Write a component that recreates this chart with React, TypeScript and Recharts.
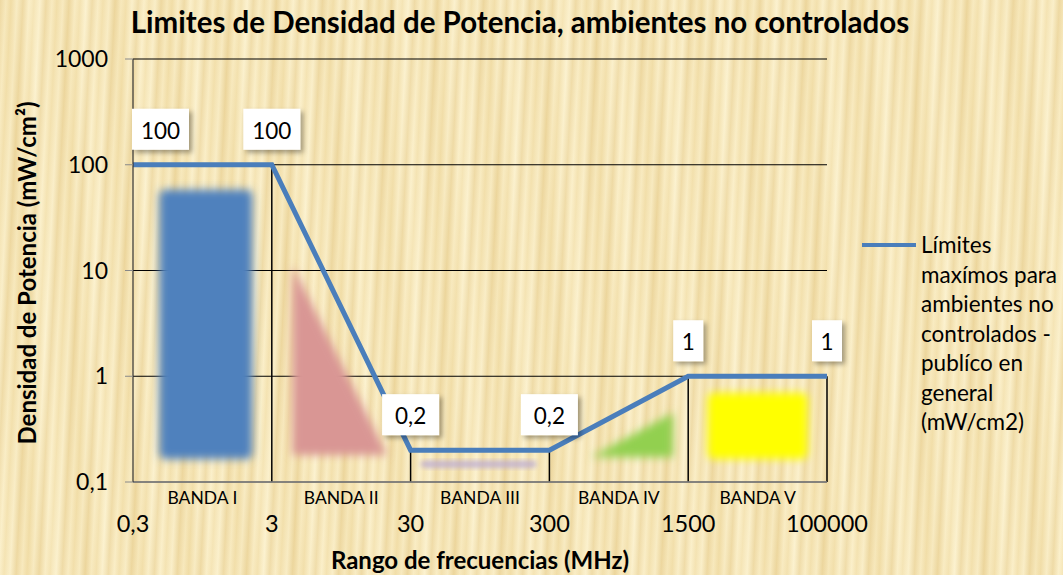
import React from "react"
import {
  LineChart,
  Line,
  XAxis,
  YAxis,
  CartesianGrid,
  Legend,
  ReferenceArea,
  ReferenceLine,
  LabelList,
  Label,
} from "recharts"

// x axis: frequency break points (MHz), drawn at equal spacing
const freqLabels = ["0,3", "3", "30", "300", "1500", "100000"]
// power density limits (mW/cm2) at each break point
const limits = [100, 100, 0.2, 0.2, 1, 1]
const bandNames = ["BANDA I", "BANDA II", "BANDA III", "BANDA IV", "BANDA V"]
const yTicks = [0.1, 1, 10, 100, 1000]

// blurred band illustrations (x in band index units, y in mW/cm2)
const bandX1 = [0.19, 1.15, 2.07, 3.3, 4.14]
const bandX2 = [0.86, 1.83, 2.91, 3.89, 4.86]
const bandYLow = [0.165, 0.18, 0.136, 0.172, 0.165]
const bandYHigh = [58, 11, 0.16, 0.45, 0.7]
const bandKinds = ["rect", "triLeft", "rect", "triRight", "rect"]
const bandColors = ["#4f81bd", "#d99694", "#b9a9d2", "#92d050", "#ffff00"]

const data = freqLabels.map((f, i) => ({ idx: i, freq: f, limit: limits[i] }))

const FONT = "Lato, 'Open Sans', sans-serif"
const PLOT_LEFT = 133

const fmt = (v: number) => String(v).replace(".", ",")

function BandShape(props: any) {
  const { x, y, width, height, kind, color, i } = props
  const id = "blur" + i
  let el
  if (kind === "triLeft") {
    el = <polygon points={`${x},${y} ${x},${y + height} ${x + width},${y + height}`} fill={color} filter={`url(#${id})`} />
  } else if (kind === "triRight") {
    el = <polygon points={`${x + width},${y} ${x + width},${y + height} ${x},${y + height}`} fill={color} filter={`url(#${id})`} />
  } else {
    el = <rect x={x} y={y} width={width} height={height} rx={6} fill={color} filter={`url(#${id})`} opacity={i === 2 ? 0.75 : 1} />
  }
  return (
    <g>
      <defs>
        <filter id={id} x="-30%" y="-30%" width="160%" height="160%">
          <feGaussianBlur stdDeviation={i === 2 ? 2.5 : 4.5} />
        </filter>
      </defs>
      {el}
    </g>
  )
}

function ValueLabel(props: any) {
  const { x, y, value, index } = props
  const txt = fmt(value)
  const w = txt.length === 1 ? 30 : txt.length * 12 + 21
  const h = 41
  let left = x - w / 2
  if (left < PLOT_LEFT - 1) left = PLOT_LEFT - 1
  const top = y - 15 - h
  const fid = "shadow" + index
  return (
    <g>
      <defs>
        <filter id={fid} x="-30%" y="-30%" width="170%" height="170%">
          <feDropShadow dx="3" dy="3" stdDeviation="2.5" floodColor="#000" floodOpacity="0.35" />
        </filter>
      </defs>
      <rect x={left} y={top} width={w} height={h} fill="#fff" filter={`url(#${fid})`} />
      <text x={left + w / 2} y={top + h / 2 + 1} textAnchor="middle" dominantBaseline="central" fontSize={22.5} fontFamily={FONT} fill="#000">
        {txt}
      </text>
    </g>
  )
}

function XTick(props: any) {
  const { x, y, payload } = props
  const v = payload.value
  if (Number.isInteger(v)) {
    return (
      <text x={x} y={y + 33} textAnchor="middle" dominantBaseline="central" fontSize={23.5} fontFamily={FONT} fill="#000">
        {freqLabels[v]}
      </text>
    )
  }
  return (
    <text x={x} y={y + 7} textAnchor="middle" dominantBaseline="central" fontSize={17.5} fontFamily={FONT} fill="#000">
      {bandNames[Math.floor(v)]}
    </text>
  )
}

function LegendBox() {
  const lines = ["Límites", "maxímos para", "ambientes no", "controlados -", "publíco en", "general", "(mW/cm2)"]
  return (
    <div style={{ display: "flex", fontFamily: FONT, fontSize: 22.5, color: "#000", lineHeight: "29.5px", whiteSpace: "nowrap" }}>
      <div style={{ width: 54, height: 4, background: "#4a7ebb", marginTop: 13, marginRight: 5 }} />
      <div>
        {lines.map((l) => (
          <div key={l}>{l}</div>
        ))}
      </div>
    </div>
  )
}

const xTicks = [0, 0.5, 1, 1.5, 2, 2.5, 3, 3.5, 4, 4.5, 5]

export default function App() {
  return (
    <div
      style={{
        position: "fixed",
        left: 0,
        top: 0,
        width: 1063,
        height: 575,
        backgroundColor: "#f8e9bc",
        backgroundImage:
          "repeating-linear-gradient(93deg, rgba(226,196,128,0.4) 0px, rgba(255,247,215,0.25) 6px, rgba(236,212,150,0.35) 11px, rgba(255,249,222,0.35) 17px, rgba(222,192,122,0.35) 23px), repeating-linear-gradient(88deg, rgba(255,250,228,0.3) 0px, rgba(228,200,132,0.25) 31px, rgba(255,250,228,0.3) 53px)",
      }}
    >
      <div
        style={{
          position: "absolute",
          left: 0,
          top: 3,
          width: 1040,
          textAlign: "center",
          fontFamily: FONT,
          fontWeight: 700,
          fontSize: 29.5,
          lineHeight: "38px",
          color: "#000",
        }}
      >
        Limites de Densidad de Potencia, ambientes no controlados
      </div>
      <LineChart width={1063} height={575} data={data} margin={{ top: 59, right: 36, bottom: 5, left: 0 }}>
        <CartesianGrid vertical={false} horizontal stroke="#000" strokeWidth={1.2} />
        {bandX1.map((x1, i) => (
          <ReferenceArea
            key={"band" + i}
            x1={x1}
            x2={bandX2[i]}
            y1={bandYLow[i]}
            y2={bandYHigh[i]}
            shape={(p: any) => <BandShape {...p} kind={bandKinds[i]} color={bandColors[i]} i={i} />}
          />
        ))}
        {data.slice(1).map((d) => (
          <ReferenceLine
            key={"drop" + d.idx}
            segment={[
              { x: d.idx, y: 0.1 },
              { x: d.idx, y: d.limit },
            ]}
            stroke="#000"
            strokeWidth={1.5}
          />
        ))}
        <XAxis
          dataKey="idx"
          type="number"
          domain={[0, 5]}
          ticks={xTicks}
          interval={0}
          tick={<XTick />}
          tickLine={false}
          axisLine={{ stroke: "#888", strokeWidth: 1.5 }}
          height={88}
        >
          <Label
            content={() => (
              <text x={480} y={559} textAnchor="middle" dominantBaseline="central" fontSize={24} fontWeight={700} fontFamily={FONT} fill="#000">
                Rango de frecuencias (MHz)
              </text>
            )}
          />
        </XAxis>
        <YAxis
          scale="log"
          domain={[0.1, 1000]}
          ticks={yTicks}
          allowDataOverflow
          width={133}
          tickSize={8}
          tickMargin={17}
          tickFormatter={fmt}
          tick={{ fontSize: 23, fontFamily: FONT, fill: "#000" }}
          tickLine={{ stroke: "#888" }}
          axisLine={{ stroke: "#333", strokeWidth: 1.2 }}
        >
          <Label
            content={() => (
              <text
                x={26}
                y={273}
                transform="rotate(-90 26 273)"
                textAnchor="middle"
                dominantBaseline="central"
                fontSize={24}
                fontWeight={700}
                fontFamily={FONT}
                fill="#000"
              >
                Densidad de Potencia (mW/cm²)
              </text>
            )}
          />
        </YAxis>
        <Legend
          layout="vertical"
          align="right"
          verticalAlign="middle"
          content={<LegendBox />}
          wrapperStyle={{ left: 862, top: 230, width: 200 }}
        />
        <Line
          type="linear"
          dataKey="limit"
          name="Límites maxímos para ambientes no controlados - publíco en general (mW/cm2)"
          stroke="#4a7ebb"
          strokeWidth={5}
          dot={false}
          isAnimationActive={false}
        >
          <LabelList dataKey="limit" content={<ValueLabel />} />
        </Line>
      </LineChart>
    </div>
  )
}
